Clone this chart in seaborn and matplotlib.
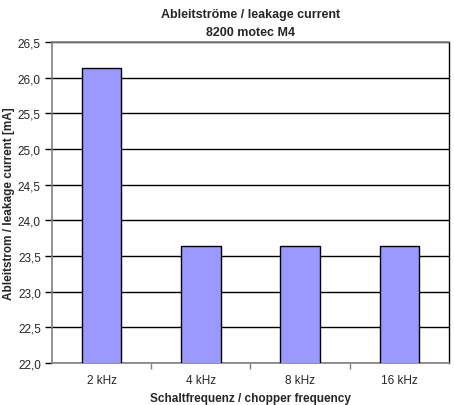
import numpy as np
import pandas as pd
import matplotlib
matplotlib.use("Agg")
import matplotlib.pyplot as plt
import seaborn as sns
from matplotlib.ticker import FuncFormatter, FixedLocator

# data
frequencies = ["2 kHz", "4 kHz", "8 kHz", "16 kHz"]
leakage_ma = [26.14, 23.64, 23.64, 23.64]

df = pd.DataFrame({"freq": frequencies, "current": leakage_ma})

sns.set_style("white")
plt.rcParams["font.family"] = ["Liberation Sans", "DejaVu Sans"]

fig = plt.figure(figsize=(4.54, 4.06), dpi=100)
ax = fig.add_axes([0.1145, 0.1034, 0.8745, 0.7906])

sns.barplot(x="freq", y="current", data=df, color="#9999FF", saturation=1,
            width=0.4, edgecolor="black", linewidth=1, ax=ax, zorder=3)

ax.set_ylim(22.0, 26.5)
ax.set_xlim(-0.5, 3.5)
ax.yaxis.set_major_locator(FixedLocator(np.arange(22.0, 26.51, 0.5)))
ax.yaxis.set_major_formatter(FuncFormatter(lambda v, p: f"{v:.1f}".replace(".", ",")))
ax.yaxis.grid(True, color="black", linewidth=1, zorder=0)
ax.set_axisbelow(True)

# x ticks at category boundaries, labels centered
ax.set_xticks([0, 1, 2, 3])
ax.set_xticklabels(frequencies)
ax.set_xticks([0.5, 1.5, 2.5], minor=True)
ax.tick_params(axis="x", which="major", length=0, pad=8, labelsize=8.5)
ax.tick_params(axis="x", which="minor", length=4, width=1, direction="out", color="#808080")
ax.tick_params(axis="y", length=5, width=1, direction="out", color="black", labelsize=8.5, pad=3)
ax.tick_params(bottom=True, left=True, which="both")

for side in ["left", "top", "bottom"]:
    ax.spines[side].set_color("#808080")
    ax.spines[side].set_linewidth(1.2)
ax.spines["right"].set_color("black")
ax.spines["right"].set_linewidth(1)

ax.set_title("Ableitströme / leakage current\n8200 motec M4", fontsize=9,
             fontweight="bold", pad=5, linespacing=1.7)
ax.set_xlabel("Schaltfrequenz / chopper frequency", fontsize=8.5, fontweight="bold", labelpad=4)
ax.set_ylabel("Ableitstrom / leakage current [mA]", fontsize=8.5, fontweight="bold", labelpad=2)

fig.savefig("out.png", dpi=100)
